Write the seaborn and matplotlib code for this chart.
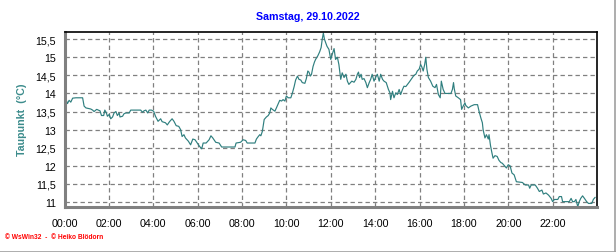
import matplotlib
matplotlib.use("Agg")
import matplotlib.pyplot as plt
import matplotlib.ticker as mticker
from matplotlib.lines import Line2D
import seaborn as sns
import pandas as pd

# --- data (minutes after midnight, dew point in °C) ---
minutes = [0, 3.5, 8, 12.5, 17, 22, 31, 49, 53, 58, 71, 76, 80, 87, 96, 100, 106, 109, 113, 116,
           121, 125, 130, 134, 139, 143, 148, 150, 157, 161, 166, 175, 179, 206, 211, 215, 220, 225, 229, 235,
           241, 246, 253, 260, 264, 273, 278, 284, 291, 296, 302, 309, 314, 318, 323, 327, 335, 341, 347, 353,
           359, 365, 371, 375, 383, 391, 396, 401, 409, 418, 425, 461, 464, 476, 483, 490, 494, 515, 519, 524,
           528, 531, 535, 537, 540, 546, 551, 555, 558, 562, 569, 573, 578, 582, 587, 591, 596, 600, 605, 612,
           616, 621, 625, 630, 634, 639, 643, 650, 654, 658, 661, 665, 668, 672, 676, 679, 685, 690, 694, 697,
           700, 703, 706, 710, 715, 720, 724, 729, 733, 738, 742, 747, 751, 756, 761, 765, 769, 777, 783, 788,
           792, 795, 798, 802, 805, 810, 815, 819, 824, 828, 832, 837, 842, 846, 851, 855, 860, 864, 870, 876,
           880, 882, 887, 891, 896, 900, 905, 909, 914, 918, 923, 932, 941, 945, 950, 954, 959, 963, 966, 970,
           974, 977, 980, 984, 990, 996, 1002, 1006, 1011, 1016, 1019, 1024, 1029, 1045, 1049, 1052, 1054, 1058, 1065, 1071,
           1074, 1078, 1083, 1085, 1092, 1099, 1108, 1117, 1121, 1126, 1130, 1132, 1137, 1141, 1146, 1148, 1152, 1156, 1159, 1164,
           1170, 1175, 1180, 1184, 1190, 1195, 1200, 1205, 1210, 1216, 1222, 1238, 1246, 1255, 1258, 1262, 1273, 1279, 1284, 1291,
           1295, 1302, 1309, 1316, 1320, 1325, 1334, 1338, 1344, 1347, 1365, 1370, 1374, 1379, 1383, 1388, 1392, 1396, 1401, 1406,
           1412, 1417, 1426, 1430, 1435]
taupunkt = [14.0, 13.85, 13.72, 13.81, 13.76, 13.87, 13.88, 13.88, 13.65, 13.6, 13.57, 13.54, 13.5, 13.56, 13.52, 13.39, 13.39, 13.54, 13.47, 13.37,
            13.42, 13.3, 13.35, 13.46, 13.5, 13.39, 13.46, 13.35, 13.37, 13.44, 13.46, 13.46, 13.54, 13.54, 13.48, 13.52, 13.54, 13.46, 13.54, 13.54,
            13.51, 13.37, 13.23, 13.3, 13.22, 13.19, 13.13, 13.22, 13.3, 13.23, 13.11, 13.09, 13.0, 12.81, 12.86, 12.77, 12.68, 12.58, 12.74, 12.72,
            12.63, 12.54, 12.47, 12.63, 12.63, 12.72, 12.83, 12.77, 12.65, 12.63, 12.52, 12.52, 12.63, 12.65, 12.72, 12.7, 12.63, 12.63, 12.74, 12.81,
            12.86, 12.83, 12.95, 13.09, 13.28, 13.35, 13.39, 13.46, 13.6, 13.56, 13.51, 13.6, 13.72, 13.81, 13.79, 13.83, 13.79, 13.93, 13.88, 13.88,
            14.0, 14.19, 14.37, 14.48, 14.39, 14.37, 14.3, 14.28, 14.41, 14.62, 14.59, 14.48, 14.53, 14.74, 14.87, 14.94, 15.04, 15.15, 15.27, 15.5,
            15.67, 15.5, 15.41, 15.3, 15.22, 14.94, 15.08, 15.24, 14.94, 15.0, 14.8, 14.39, 14.57, 14.44, 14.53, 14.34, 14.25, 14.34, 14.31, 14.39,
            14.53, 14.59, 14.44, 14.53, 14.39, 14.41, 14.3, 14.16, 14.3, 14.39, 14.53, 14.34, 14.46, 14.53, 14.34, 14.53, 14.39, 14.34, 14.3, 14.11,
            14.02, 13.83, 14.06, 13.88, 14.02, 13.97, 14.11, 13.97, 14.11, 14.2, 14.19, 14.31, 14.44, 14.5, 14.53, 14.62, 14.67, 14.8, 14.74, 14.62,
            14.8, 15.0, 14.67, 14.44, 14.34, 14.2, 14.16, 14.25, 13.97, 13.88, 14.34, 14.11, 14.0, 14.0, 14.11, 14.3, 14.13, 13.93, 13.88, 13.83,
            13.56, 13.65, 13.74, 13.67, 13.6, 13.65, 13.69, 13.69, 13.51, 13.32, 13.19, 13.0, 12.77, 12.86, 12.74, 12.86, 12.56, 12.35, 12.21, 12.28,
            12.26, 12.15, 12.09, 12.07, 12.0, 11.94, 12.03, 12.0, 11.8, 11.75, 11.56, 11.54, 11.47, 11.47, 11.38, 11.47, 11.47, 11.38, 11.29, 11.33,
            11.22, 11.25, 11.19, 11.1, 11.01, 11.07, 11.07, 11.15, 11.15, 11.01, 11.01, 11.1, 11.01, 11.01, 11.07, 10.87, 11.01, 11.1, 11.17, 11.1,
            11.01, 10.96, 10.96, 11.07, 11.13]

x_ticks = [0, 120, 240, 360, 480, 600, 720, 840, 960, 1080, 1200, 1320]
x_tick_labels = ["00:00", "02:00", "04:00", "06:00", "08:00", "10:00", "12:00",
                 "14:00", "16:00", "18:00", "20:00", "22:00"]
y_ticks = [11, 11.5, 12, 12.5, 13, 13.5, 14, 14.5, 15, 15.5]
y_tick_labels = ["11", "11,5", "12", "12,5", "13", "13,5", "14", "14,5", "15", "15,5"]

title = "Samstag, 29.10.2022"
ylabel = "Taupunkt  (°C)"
footer = "\u00a9 WsWin32  -  \u00a9 Heiko Blödorn"

df = pd.DataFrame({"min": minutes, "tp": taupunkt})

sns.set_style("white")
plt.rcParams["font.family"] = ["Liberation Sans", "DejaVu Sans"]

fig = plt.figure(figsize=(6.16, 2.53), dpi=100)
ax = fig.add_axes([64.5 / 616, 1 - 207.7 / 253, (597 - 64.5) / 616, (207.7 - 33.3) / 253])

sns.lineplot(data=df, x="min", y="tp", ax=ax, color="#2F7F7F", linewidth=0.85)

ax.set_xlim(0, 1440)
ax.set_ylim(10.87, 15.69)
ax.set_xticks(x_ticks)
ax.set_xticklabels(x_tick_labels)
ax.set_yticks(y_ticks)
ax.set_yticklabels(y_tick_labels)
ax.xaxis.set_minor_locator(mticker.MultipleLocator(30))
ax.yaxis.set_minor_locator(mticker.MultipleLocator(0.1))

ax.grid(True, which="major", color="#808080", linestyle=(0, (3.5, 2.5)), linewidth=0.9)
ax.set_axisbelow(True)

for s in ["left", "bottom"]:
    ax.spines[s].set_color("#808080")
    ax.spines[s].set_linewidth(2.2)
for s in ["top", "right"]:
    ax.spines[s].set_color("black")
    ax.spines[s].set_linewidth(1.2)

ax.tick_params(axis="both", which="major", labelsize=7.7, colors="#808080", labelcolor="black",
               direction="out", length=3, width=1, pad=2)
ax.tick_params(axis="both", which="minor", colors="#808080", direction="out", length=2, width=1)
ax.tick_params(axis="x", which="major", length=4, pad=4)
ax.tick_params(axis="x", which="minor", length=3)
ax.tick_params(axis="y", which="major", pad=3)

ax.set_xlabel("")
ax.set_ylabel("")
fig.text(22 / 616, 1 - 120 / 253, ylabel, rotation=90, ha="center", va="center",
         fontsize=7.7, fontweight="bold", color="#3C8C8C")
fig.text(308 / 616, 1 - 17.5 / 253, title, ha="center", va="center",
         fontsize=7.7, fontweight="bold", color="#0000FF")
fig.text(5 / 616, 1 - 238 / 253, footer, ha="left", va="center",
         fontsize=4.8, fontweight="bold", color="#FF0000")

# outer frame lines (right and bottom)
fig.add_artist(Line2D([614.5 / 616, 614.5 / 616], [0, 1], transform=fig.transFigure,
                      color="#A0A0A0", linewidth=1.2))
fig.add_artist(Line2D([0, 1], [0.5 / 253, 0.5 / 253], transform=fig.transFigure,
                      color="#A0A0A0", linewidth=1.2))

fig.savefig("out.png", dpi=100)
